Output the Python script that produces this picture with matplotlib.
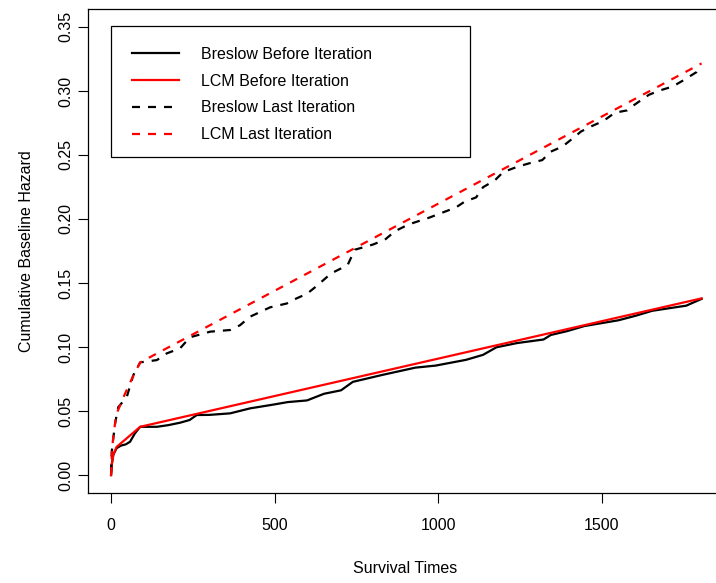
import matplotlib
matplotlib.use("Agg")
import matplotlib.pyplot as plt
from matplotlib.patches import Rectangle

plt.rcParams['font.family'] = ['Liberation Sans', 'DejaVu Sans']

# 数据
breslow_before_t = [0, 2, 7, 17, 30, 45, 58, 73, 89, 140, 175, 211, 240, 262,
                    300, 364, 425, 495, 540, 599, 651, 703, 739, 827, 930,
                    992, 1085, 1137, 1178, 1241, 1322, 1344, 1395, 1447, 1551,
                    1603, 1654, 1758, 1805]
breslow_before_h = [0.0, 0.008, 0.016, 0.021, 0.023, 0.024, 0.026, 0.0326,
                    0.0377, 0.0377, 0.039, 0.0409, 0.043, 0.0469, 0.047,
                    0.0482, 0.0521, 0.055, 0.057, 0.0583, 0.0635, 0.0662,
                    0.0728, 0.0781, 0.0839, 0.0855, 0.090, 0.0939, 0.0998,
                    0.1031, 0.1059, 0.1094, 0.1125, 0.1164, 0.1209, 0.1244,
                    0.1283, 0.1323, 0.1376]

lcm_before_t = [0, 2, 7, 17, 89, 1805]
lcm_before_h = [0.0, 0.008, 0.016, 0.022, 0.0377, 0.138]

breslow_last_t = [0, 2, 12, 22, 48, 68, 89, 140, 170, 211, 241, 303, 364, 394,
                  425, 486, 537, 567, 599, 630, 672, 723, 745, 800, 837, 868,
                  910, 972, 1013, 1054, 1080, 1116, 1137, 1173, 1199, 1241,
                  1277, 1318, 1344, 1380, 1406, 1437, 1468, 1504, 1540, 1577,
                  1602, 1644, 1675, 1716, 1748, 1790, 1805]
breslow_last_h = [0.002, 0.018, 0.040, 0.053, 0.061, 0.078, 0.088, 0.0898,
                  0.095, 0.099, 0.1076, 0.112, 0.1133, 0.117, 0.1237, 0.131,
                  0.134, 0.138, 0.1416, 0.148, 0.1574, 0.164, 0.176, 0.180,
                  0.1838, 0.1905, 0.1958, 0.201, 0.205, 0.209, 0.2134, 0.2169,
                  0.2248, 0.2302, 0.2367, 0.2407, 0.2434, 0.246, 0.2526,
                  0.2566, 0.2619, 0.2684, 0.2724, 0.2764, 0.283, 0.2848,
                  0.2896, 0.297, 0.3002, 0.3034, 0.3081, 0.3148, 0.3195]

lcm_last_t = [0, 3, 8, 17, 40, 65, 89, 1805]
lcm_last_h = [0.0, 0.020, 0.033, 0.048, 0.062, 0.076, 0.088, 0.3215]

x_ticks = [0, 500, 1000, 1500]
y_ticks = [0.00, 0.05, 0.10, 0.15, 0.20, 0.25, 0.30, 0.35]
labels = ['Breslow Before Iteration', 'LCM Before Iteration',
          'Breslow Last Iteration', 'LCM Last Iteration']

fs = 11.5
lw = 1.6
dash = (0, (3.6, 3.6))

fig = plt.figure(figsize=(7.16, 5.83), dpi=100)
ax = fig.add_axes([87.5 / 716, 90 / 583, 636 / 716, 484 / 583])

ax.plot(breslow_before_t, breslow_before_h, color='black', lw=lw,
        label=labels[0])
ax.plot(lcm_before_t, lcm_before_h, color='red', lw=lw, label=labels[1])
ax.plot(breslow_last_t, breslow_last_h, color='black', lw=lw,
        linestyle=dash, label=labels[2])
ax.plot(lcm_last_t, lcm_last_h, color='red', lw=lw, linestyle=dash,
        label=labels[3])

ax.set_xlim(-72, 1872)
ax.set_ylim(-0.014, 0.364)
ax.set_xticks(x_ticks)
ax.set_xticklabels([str(v) for v in x_ticks], fontsize=fs)
ax.set_yticks(y_ticks)
ax.set_yticklabels(['%.2f' % v for v in y_ticks], fontsize=fs,
                   rotation=90, va='center')
ax.tick_params(axis='x', length=7, width=0.8, pad=11)
ax.tick_params(axis='y', length=7, width=0.8, pad=3)
for s in ax.spines.values():
    s.set_linewidth(0.9)

ax.set_xlabel('Survival Times', fontsize=fs, labelpad=20)
ax.set_ylabel('Cumulative Baseline Hazard', fontsize=fs, labelpad=18)

# 图例（R 风格的宽边框）
ax.add_patch(Rectangle((0.037, 0.694), 0.564, 0.271, transform=ax.transAxes,
                       fill=False, edgecolor='black', lw=0.9, zorder=5))
ax.legend(loc='upper left', bbox_to_anchor=(0.070, 0.922), frameon=False,
          fontsize=fs, borderpad=0, handlelength=2.95, handletextpad=1.35,
          labelspacing=0.74, borderaxespad=0)

fig.savefig('out.png', dpi=100)
